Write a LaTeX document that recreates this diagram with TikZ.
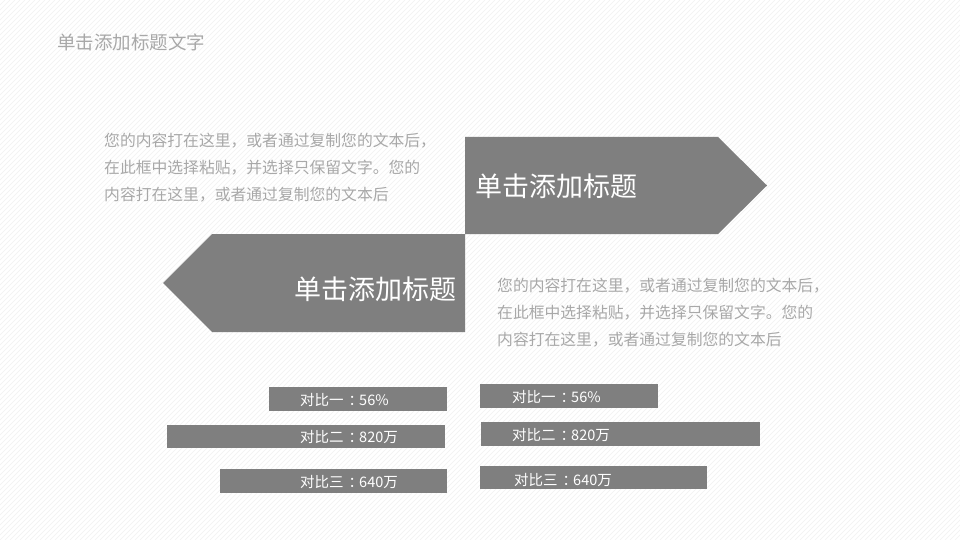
\documentclass[tikz,border=0pt]{standalone}
\usepackage{fontspec}
\setmainfont{Noto Sans CJK SC}
\definecolor{bargray}{HTML}{7F7F7F}
\definecolor{txtgray}{HTML}{A8A8A8}
\definecolor{stripe}{HTML}{F1F1F1}
\newcommand{\cln}{\kern5pt：\kern-4pt}
\begin{document}
\begin{tikzpicture}[x=1pt,y=-1pt,
  shapefill/.style={fill=bargray,draw=none},
  bigtitle/.style={font=\fontsize{27}{30}\selectfont,text=white,inner sep=0pt,text height=0.88em,text depth=0.12em},
  para/.style={font=\fontsize{15.8}{27.2}\selectfont,text=txtgray,align=left,inner sep=0pt,anchor=north west},
  barlabel/.style={font=\fontsize{14.5}{16}\selectfont,text=white,inner sep=0pt,anchor=west,text height=0.88em,text depth=0.12em},
  stripeline/.style={draw=stripe,line width=0.6pt}]
\useasboundingbox (0,0) rectangle (960,540);
\fill[white] (0,0) rectangle (960,540);
\begin{scope}
\clip (0,0) rectangle (960,540);
\foreach \i in {-540,-535,...,960} \draw[stripeline] (\i,540) -- (\i+540,0);
\end{scope}
% page title
\node[font=\fontsize{18.5}{22}\selectfont,text=txtgray,anchor=west,inner sep=0pt,text height=0.88em,text depth=0.12em] (title) at (57,46) {单击添加标题文字};
% arrows
\path[shapefill] (465,137) -- (718,137) -- (767,185.5) -- (718,234) -- (465,234) -- cycle;
\path[shapefill] (465,234) -- (212,234) -- (163,283) -- (212,332) -- (465,332) -- cycle;
\node[bigtitle,anchor=west] (t1) at (475,193) {单击添加标题};
\node[bigtitle,anchor=east] (t2) at (457,296) {单击添加标题};
% paragraphs
\node[para] (p1) at (104,133) {您的内容打在这里，或者通过复制您的文本后，\\在此框中选择粘贴，并选择只保留文字。您的\\内容打在这里，或者通过复制您的文本后};
\node[para] (p2) at (497,278) {您的内容打在这里，或者通过复制您的文本后，\\在此框中选择粘贴，并选择只保留文字。您的\\内容打在这里，或者通过复制您的文本后};
% bars left
\path[shapefill] (269,387) rectangle (447,411);
\path[shapefill] (167,425) rectangle (445,448);
\path[shapefill] (220,469) rectangle (447,493);
\node[barlabel] (l1) at (300,402) {对比一\cln 56\%};
\node[barlabel] (l2) at (300,439) {对比二\cln 820万};
\node[barlabel] (l3) at (300,484) {对比三\cln 640万};
% bars right
\path[shapefill] (480,384) rectangle (658,408);
\path[shapefill] (481,422) rectangle (760,446);
\path[shapefill] (480,466) rectangle (707,489);
\node[barlabel] (r1) at (512,399) {对比一\cln 56\%};
\node[barlabel] (r2) at (512,437) {对比二\cln 820万};
\node[barlabel] (r3) at (514,482) {对比三\cln 640万};
\end{tikzpicture}
\end{document}
